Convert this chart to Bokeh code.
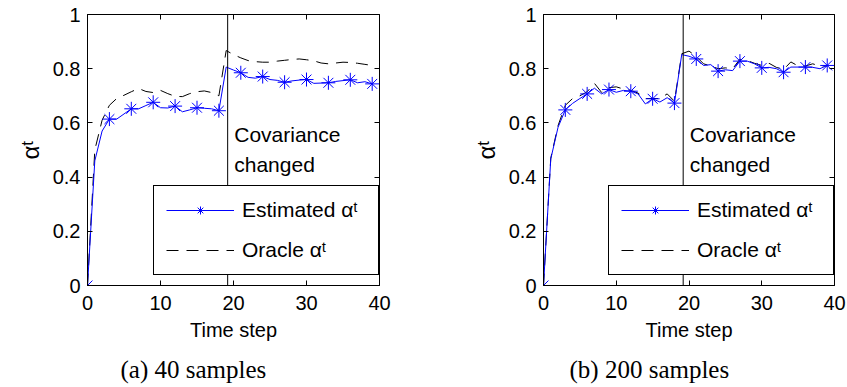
from bokeh.plotting import figure
from bokeh.layouts import row
from bokeh.models import (Span, Label, Title, LinearAxis, FixedTicker, Legend,
                          LegendItem, Range1d)
from bokeh.embed import file_html
from bokeh.resources import INLINE

# ---------------- data ----------------
time_steps = list(range(40))

est_40 = [0.0, 0.46, 0.57, 0.614, 0.614, 0.633, 0.652, 0.652, 0.664, 0.676,
          0.656, 0.655, 0.662, 0.641, 0.648, 0.656, 0.654, 0.652, 0.645, 0.806,
          0.795, 0.785, 0.768, 0.765, 0.771, 0.760, 0.757, 0.750, 0.755, 0.758,
          0.760, 0.746, 0.747, 0.748, 0.753, 0.756, 0.759, 0.748, 0.752, 0.744]
oracle_40 = [0.0, 0.50, 0.61, 0.665, 0.69, 0.702, 0.715, 0.727, 0.716, 0.712,
             0.72, 0.708, 0.698, 0.697, 0.708, 0.715, 0.718, 0.712, 0.700, 0.867,
             0.852, 0.840, 0.830, 0.826, 0.824, 0.824, 0.828, 0.831, 0.834, 0.836,
             0.833, 0.829, 0.821, 0.818, 0.821, 0.824, 0.823, 0.820, 0.816, 0.812]

est_200 = [0.0, 0.467, 0.584, 0.648, 0.672, 0.690, 0.707, 0.728, 0.707, 0.723,
           0.713, 0.720, 0.717, 0.707, 0.670, 0.689, 0.677, 0.693, 0.673, 0.852,
           0.846, 0.836, 0.812, 0.815, 0.791, 0.796, 0.793, 0.828, 0.828, 0.818,
           0.803, 0.805, 0.800, 0.787, 0.806, 0.806, 0.806, 0.805, 0.800, 0.812]
oracle_200 = [0.0, 0.47, 0.59, 0.665, 0.69, 0.700, 0.715, 0.746, 0.712, 0.730,
              0.733, 0.725, 0.720, 0.710, 0.690, 0.690, 0.690, 0.707, 0.680, 0.855,
              0.865, 0.845, 0.818, 0.810, 0.800, 0.803, 0.800, 0.835, 0.830, 0.820,
              0.812, 0.820, 0.805, 0.797, 0.825, 0.810, 0.810, 0.818, 0.810, 0.810]

marker_every = 3
x_ticks = [0, 10, 20, 30, 40]
y_ticks = [0, 0.2, 0.4, 0.6, 0.8, 1]
change_step = 19.2
captions = ["(a) 40 samples", "(b) 200 samples"]
legend_labels = ["Estimated \u03b1\u1d57", "Oracle \u03b1\u1d57"]
y_label = "\u03b1\u1d57"
x_label = "Time step"
note_lines = ["Covariance", "changed"]

SANS = "Liberation Sans"
SERIF = "Liberation Serif"


def make_panel(est, orc, caption, border_left, border_right, frame_w,
               cap_offset, legend_x):
    p = figure(frame_width=frame_w, frame_height=271,
               min_border_left=border_left, min_border_right=border_right,
               min_border_top=14, min_border_bottom=102,
               x_range=Range1d(0, 40), y_range=Range1d(0, 1),
               output_backend="svg", toolbar_location=None)
    p.grid.visible = False
    p.outline_line_color = "black"
    p.outline_line_alpha = 1.0
    p.outline_line_width = 1
    p.background_fill_color = "white"
    p.border_fill_color = "white"

    for ax, ticks in ((p.xaxis[0], x_ticks), (p.yaxis[0], y_ticks)):
        ax.ticker = FixedTicker(ticks=ticks)
        ax.major_tick_in = 5
        ax.major_tick_out = 0
        ax.minor_tick_line_color = None
        ax.axis_line_color = "black"
        ax.major_tick_line_color = "black"
        ax.major_label_text_font = SANS
        ax.major_label_text_font_size = "20px"
        ax.major_label_text_color = "black"
        ax.axis_label_text_font = SANS
        ax.axis_label_text_font_size = "20px"
        ax.axis_label_text_font_style = "normal"
        ax.axis_label_text_color = "black"
    p.yaxis[0].major_label_overrides = {0: "0", 1: "1"}
    p.xaxis[0].axis_label = x_label
    p.yaxis[0].axis_label = y_label
    p.yaxis[0].axis_label_text_font_size = "24px"
    p.xaxis[0].major_label_standoff = 10
    p.xaxis[0].axis_label_standoff = 6
    p.yaxis[0].major_label_standoff = 7
    p.yaxis[0].axis_label_standoff = 6

    for loc, ticks in (("above", x_ticks), ("right", y_ticks)):
        ax = LinearAxis(ticker=FixedTicker(ticks=ticks),
                        major_label_text_font_size="1px",
                        major_label_text_color=None,
                        major_label_standoff=0,
                        major_tick_in=5, major_tick_out=0,
                        minor_tick_line_color=None,
                        axis_line_color=None,
                        major_tick_line_color="black")
        p.add_layout(ax, loc)

    p.add_layout(Span(location=change_step, dimension="height",
                      line_color="black", line_width=1))

    l_orc = p.line(time_steps, orc, line_color="black", line_width=1,
                   line_dash="12 8")
    l_est = p.line(time_steps, est, line_color="#0000ff", line_width=1)
    s_est = p.scatter(time_steps[::marker_every], est[::marker_every],
                      marker="asterisk", size=14, line_color="#0000ff",
                      line_width=1)

    legend = Legend(items=[LegendItem(label=legend_labels[0], renderers=[l_est, s_est]),
                           LegendItem(label=legend_labels[1], renderers=[l_orc])],
                    location=(legend_x, 10),
                    border_line_color="black", border_line_width=1,
                    border_line_alpha=1.0,
                    background_fill_color="white", background_fill_alpha=1.0,
                    label_text_font=SANS, label_text_font_size="21px",
                    label_text_color="black",
                    glyph_width=68, glyph_height=20, label_height=20,
                    label_width=124, label_standoff=8, padding=12, spacing=16,
                    margin=0)
    p.add_layout(legend)

    p.add_layout(Label(x=20.1, y=0.556, text=note_lines[0], text_font=SANS,
                       text_font_size="21px", text_color="black",
                       text_baseline="alphabetic"))
    p.add_layout(Label(x=20.1, y=0.446, text=note_lines[1], text_font=SANS,
                       text_font_size="21px", text_color="black",
                       text_baseline="alphabetic"))

    p.add_layout(Title(text=caption, align="left", offset=cap_offset,
                       text_font=SERIF, text_font_size="25px",
                       text_font_style="normal", text_color="black",
                       standoff=20), "below")
    return p


p1 = make_panel(est_40, oracle_40, captions[0], 87, 44, 292, 33, 66)
p2 = make_panel(est_200, oracle_200, captions[1], 120, 13, 291, 26, 65)

layout = row(p1, p2)
open("out.html", "w").write(file_html(layout, INLINE))
